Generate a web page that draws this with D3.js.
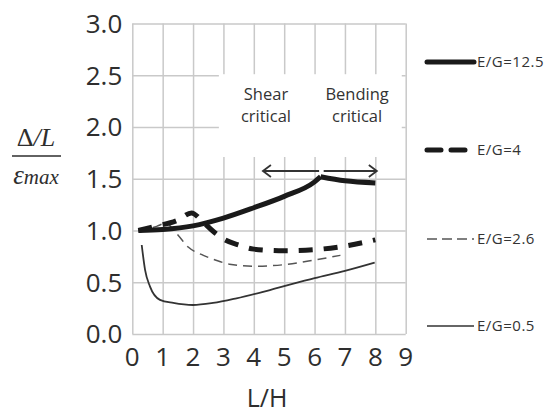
<!DOCTYPE html>
<html>
<head>
<meta charset="utf-8">
<script src="https://cdn.jsdelivr.net/npm/d3@7"></script>
<style>
  body { margin: 0; background: #fff; }
  svg { font-family: "Open Sans", sans-serif; }
</style>
</head>
<body>
<svg width="549" height="412"></svg>
<script>
// data (x = L/H, y = (Δ/L)/εmax)
var xTicks = [0, 1, 2, 3, 4, 5, 6, 7, 8, 9];
var yTicks = [0, 0.5, 1, 1.5, 2, 2.5, 3];

var eg125Rise = [[0.2, 1.0], [1, 1.01], [2, 1.045], [3, 1.12], [4, 1.22], [5, 1.33], [6, 1.47], [6.2, 1.52]];
var eg125Fall = [[6.2, 1.52], [7, 1.48], [8, 1.46]];
var eg4 = [[0.2, 1.0], [0.75, 1.04], [1.5, 1.1], [1.95, 1.17], [2.3, 1.09], [2.67, 0.99], [3.05, 0.91],
           [3.5, 0.86], [4, 0.82], [5, 0.805], [6, 0.815], [7, 0.85], [8, 0.91]];
var eg26 = [[0.2, 1.0], [0.8, 1.04], [1.1, 1.07], [1.46, 0.97], [1.84, 0.84], [2.34, 0.76], [2.78, 0.71],
            [3.2, 0.675], [4, 0.655], [5, 0.67], [6, 0.715], [6.85, 0.76]];
var eg05 = [[0.31, 0.86], [0.42, 0.62], [0.58, 0.46], [0.91, 0.33], [1.35, 0.3], [2, 0.28], [2.66, 0.3],
            [3.43, 0.345], [4.53, 0.425], [6, 0.54], [7, 0.61], [7.98, 0.69]];

var legendNames = ['E/G=12.5', 'E/G=4', 'E/G=2.6', 'E/G=0.5'];

var svg = d3.select('svg');
var margin = {top: 23.5, left: 132.3, right: 143.3, bottom: 78};
var width = 549, height = 412;
var innerWidth = width - margin.left - margin.right;
var innerHeight = height - margin.top - margin.bottom;

var x = d3.scaleLinear().domain([0, 9]).range([0, innerWidth]);
var y = d3.scaleLinear().domain([0, 3]).range([innerHeight, 0]);

var g = svg.append('g').attr('transform', 'translate(' + margin.left + ',' + margin.top + ')');

// grid lines
g.append('g')
  .attr('transform', 'translate(0,' + innerHeight + ')')
  .call(d3.axisBottom(x).tickValues(xTicks).tickSize(-innerHeight))
  .call(a => a.select('.domain').remove())
  .call(a => a.selectAll('text').remove())
  .selectAll('line').attr('stroke', '#c9c9c9').attr('stroke-width', 1.5);
g.append('g')
  .call(d3.axisLeft(y).tickValues(yTicks).tickSize(-innerWidth))
  .call(a => a.select('.domain').remove())
  .call(a => a.selectAll('text').remove())
  .selectAll('line').attr('stroke', '#c9c9c9').attr('stroke-width', 1.5);

// tick labels
g.selectAll('.xlab').data(xTicks).enter().append('text')
  .attr('x', d => x(d)).attr('y', innerHeight + 32)
  .attr('text-anchor', 'middle').attr('font-size', 26).attr('fill', '#2e2e2e')
  .text(d => d);
g.selectAll('.ylab').data(yTicks).enter().append('text')
  .attr('x', -10).attr('y', d => y(d)).attr('dy', '0.36em')
  .attr('text-anchor', 'end').attr('font-size', 26).attr('fill', '#2e2e2e')
  .text(d => d3.format('.1f')(d));

// axis titles
g.append('text')
  .attr('x', innerWidth / 2 - 2).attr('y', innerHeight + 73)
  .attr('text-anchor', 'middle').attr('font-size', 25).attr('fill', '#2e2e2e')
  .text('L/H');
svg.append('text')
  .attr('x', 36).attr('y', 146).attr('text-anchor', 'middle')
  .attr('font-family', 'Liberation Serif, serif').attr('font-size', 26).attr('fill', '#2e2e2e')
  .html('Δ<tspan font-style="italic">/L</tspan>');
svg.append('line').attr('x1', 12).attr('x2', 61).attr('y1', 156).attr('y2', 156)
  .attr('stroke', '#2e2e2e').attr('stroke-width', 1.5);
svg.append('text')
  .attr('x', 36).attr('y', 184).attr('text-anchor', 'middle')
  .attr('font-family', 'Liberation Serif, serif').attr('font-style', 'italic')
  .attr('font-size', 27).attr('fill', '#2e2e2e')
  .html('ε<tspan font-size="21">max</tspan>');

// white box behind the annotation
g.append('rect')
  .attr('x', x(2.85)).attr('y', y(2.51))
  .attr('width', x(8.87) - x(2.85)).attr('height', y(1.71) - y(2.51))
  .attr('fill', '#fff');

var line = d3.line().x(d => x(d[0])).y(d => y(d[1])).curve(d3.curveMonotoneX);

// curves
g.append('path').datum(eg05).attr('d', line)
  .attr('fill', 'none').attr('stroke', '#333').attr('stroke-width', 1.8);
g.append('path').datum(eg26).attr('d', line)
  .attr('fill', 'none').attr('stroke', '#555').attr('stroke-width', 1.5)
  .attr('stroke-dasharray', '9,6');
g.append('path').datum(eg4).attr('d', line)
  .attr('fill', 'none').attr('stroke', '#1a1a1a').attr('stroke-width', 5)
  .attr('stroke-dasharray', '14,11');
[eg125Rise, eg125Fall].forEach(function (seg) {
  g.append('path').datum(seg).attr('d', line)
    .attr('fill', 'none').attr('stroke', '#1a1a1a').attr('stroke-width', 5)
    .attr('stroke-linejoin', 'round');
});

// annotation text
var notes = [['Shear', 4.4, 2.26], ['critical', 4.4, 2.05], ['Bending', 7.4, 2.26], ['critical', 7.4, 2.05]];
g.selectAll('.note').data(notes).enter().append('text')
  .attr('x', d => x(d[1])).attr('y', d => y(d[2]))
  .attr('text-anchor', 'middle').attr('font-size', 16.5).attr('fill', '#333')
  .text(d => d[0]);

// arrows
var arrowY = 1.575;
var arrows = [[6.15, 4.3], [6.3, 8.05]];
arrows.forEach(function (a) {
  var x0 = x(a[0]), x1 = x(a[1]), yy = y(arrowY), s = x1 > x0 ? -1 : 1;
  g.append('line').attr('x1', x0).attr('x2', x1).attr('y1', yy).attr('y2', yy)
    .attr('stroke', '#333').attr('stroke-width', 1.8);
  g.append('path')
    .attr('d', 'M' + (x1 + s * 8) + ',' + (yy - 6) + 'L' + x1 + ',' + yy + 'L' + (x1 + s * 8) + ',' + (yy + 6))
    .attr('fill', 'none').attr('stroke', '#333').attr('stroke-width', 1.8);
});

// legend
var legY = [62, 150, 239, 326];
var legStyle = [
  {w: 5, dash: null, c: '#1a1a1a'},
  {w: 5, dash: '14,10', c: '#1a1a1a'},
  {w: 1.5, dash: '10,5', c: '#555'},
  {w: 1.5, dash: null, c: '#333'}
];
legendNames.forEach(function (name, i) {
  svg.append('line').attr('x1', 427).attr('x2', 474).attr('y1', legY[i]).attr('y2', legY[i])
    .attr('stroke', legStyle[i].c).attr('stroke-width', legStyle[i].w)
    .attr('stroke-dasharray', legStyle[i].dash)
    .attr('stroke-linecap', i < 2 ? 'round' : 'butt');
  svg.append('text').attr('x', 477).attr('y', legY[i]).attr('dy', '0.36em')
    .attr('font-size', 15).attr('letter-spacing', 0.5).attr('fill', '#333')
    .text(name);
});
</script>
</body>
</html>
